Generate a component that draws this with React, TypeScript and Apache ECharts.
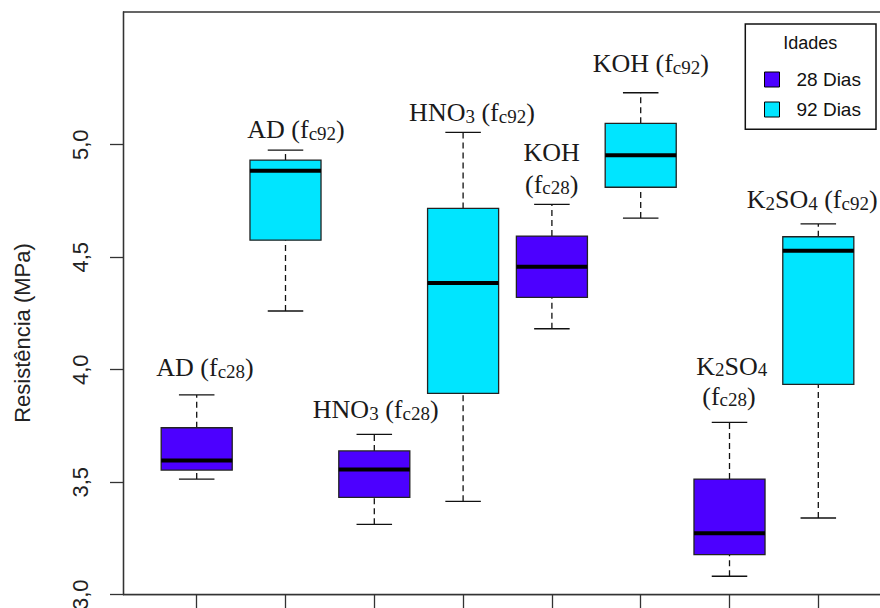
import React, { useEffect, useRef } from "react";
import * as echarts from "echarts";

// ---- data ----
const categories = ["AD 28", "AD 92", "HNO3 28", "HNO3 92", "KOH 28", "KOH 92", "K2SO4 28", "K2SO4 92"];
const boxAge = [0, 1, 0, 1, 0, 1, 0, 1];
const whiskerLow = [3.514, 4.261, 3.313, 3.415, 4.182, 4.674, 3.082, 3.341];
const lowerQuartile = [3.554, 4.576, 3.433, 3.895, 4.322, 4.811, 3.178, 3.935];
const medians = [3.597, 4.884, 3.556, 4.385, 4.458, 4.953, 3.273, 4.529];
const upperQuartile = [3.742, 4.932, 3.639, 4.717, 4.594, 5.095, 3.514, 4.591];
const whiskerHigh = [3.888, 4.976, 3.713, 5.055, 4.735, 5.231, 3.766, 4.648];
const ageNames = ["28 Dias", "92 Dias"];
const ageColors = ["#4C00FF", "#00E5FF"];
const yTicks = [3.0, 3.5, 4.0, 4.5, 5.0];
const xTicks = [1, 2, 3, 4, 5, 6, 7, 8];
const legendTitle = "Idades";
const yTitle = "Resistência (MPa)";

const SERIF = '"Liberation Serif", "Times New Roman", serif';
const SANS = '"Liberation Sans", Arial, sans-serif';
const INK = "#1a1a1a";

const rich = {
  m: { fontFamily: SERIF, fontSize: 26, lineHeight: 26, color: INK, verticalAlign: "bottom" },
  s: { fontFamily: SERIF, fontSize: 19, lineHeight: 19, color: INK, verticalAlign: "bottom" },
};

function label(text: string, x: number, baseline: number, align = "center") {
  return {
    type: "text",
    silent: true,
    z: 10,
    style: {
      text,
      x,
      y: baseline - 8.8,
      rich,
      fill: INK,
      font: `26px ${SERIF}`,
      align,
      textAlign: align,
      verticalAlign: "middle",
      textVerticalAlign: "middle",
    },
  };
}

function renderBox(params: any, api: any) {
  const x = api.value(0);
  const pLo = api.coord([x, api.value(1)]);
  const pQ1 = api.coord([x, api.value(2)]);
  const pMd = api.coord([x, api.value(3)]);
  const pQ3 = api.coord([x, api.value(4)]);
  const pHi = api.coord([x, api.value(5)]);
  const half = api.size([0.8, 0])[0] / 2;
  const cap = half / 2;
  const cx = pLo[0];
  const color = api.visual("color");
  const dash = { stroke: "#111", lineWidth: 1.3, lineDash: [6, 4] };
  const solid = { stroke: "#111", lineWidth: 1.3 };
  return {
    type: "group",
    children: [
      { type: "line", shape: { x1: cx, y1: pQ3[1], x2: cx, y2: pHi[1] }, style: dash },
      { type: "line", shape: { x1: cx, y1: pLo[1], x2: cx, y2: pQ1[1] }, style: dash },
      { type: "line", shape: { x1: cx - cap, y1: pHi[1], x2: cx + cap, y2: pHi[1] }, style: solid },
      { type: "line", shape: { x1: cx - cap, y1: pLo[1], x2: cx + cap, y2: pLo[1] }, style: solid },
      {
        type: "rect",
        shape: { x: cx - half, y: pQ3[1], width: 2 * half, height: pQ1[1] - pQ3[1] },
        style: { fill: color, stroke: "#222", lineWidth: 1.3 },
      },
      { type: "line", shape: { x1: cx - half, y1: pMd[1], x2: cx + half, y2: pMd[1] }, style: { stroke: "#000", lineWidth: 4 } },
    ],
  };
}

export default function App() {
  const ref = useRef<HTMLDivElement>(null);
  useEffect(() => {
    if (!ref.current) return;
    const chart = echarts.init(ref.current, undefined, { renderer: "svg" });
    const series = ageNames.map((name, g) => ({
      name,
      type: "custom",
      renderItem: renderBox,
      itemStyle: { color: ageColors[g] },
      encode: { x: 0, y: [1, 2, 3, 4, 5] },
      data: categories
        .map((_, i) => i)
        .filter((i) => boxAge[i] === g)
        .map((i) => [i + 1, whiskerLow[i], lowerQuartile[i], medians[i], upperQuartile[i], whiskerHigh[i]]),
    }));
    chart.setOption({
      animation: false,
      backgroundColor: "#ffffff",
      grid: {
        left: 123.5,
        top: 12,
        right: -20,
        bottom: 13.3,
        containLabel: false,
        outerBoundsMode: "none",
        show: true,
        borderColor: "#333",
        borderWidth: 1.3,
        backgroundColor: "transparent",
      },
      xAxis: {
        type: "value",
        min: 0.1757,
        max: 8.92,
        axisLine: { show: true, onZero: false, lineStyle: { color: "#333", width: 1.3 } },
        axisTick: { show: true, customValues: xTicks, length: 14, lineStyle: { color: "#333", width: 1.3 } },
        axisLabel: { show: false },
        splitLine: { show: false },
      },
      yAxis: {
        type: "value",
        min: 3.0,
        max: 5.59,
        axisLine: { show: true, lineStyle: { color: "#333", width: 1.3 } },
        axisTick: { show: true, customValues: yTicks, length: 13.5, lineStyle: { color: "#333", width: 1.3 } },
        axisLabel: {
          customValues: yTicks,
          formatter: (v: number) => v.toFixed(1).replace(".", ","),
          rotate: 90,
          margin: 32,
          fontFamily: SANS,
          fontSize: 22,
          color: "#222",
          showMinLabel: true,
          showMaxLabel: true,
        },
        splitLine: { show: false },
      },
      legend: {
        orient: "vertical",
        left: 764,
        top: 70,
        padding: 0,
        itemWidth: 15,
        itemHeight: 15,
        itemGap: 11,
        icon: "rect",
        selectedMode: false,
        data: ageNames,
        itemStyle: { borderColor: "#000", borderWidth: 1 },
        textStyle: { fontFamily: SANS, fontSize: 19, lineHeight: 15, color: "#111", padding: [0, 0, 0, 12] },
      },
      graphic: [
        { type: "rect", silent: true, shape: { x: 745.3, y: 24, width: 130.7, height: 105.3 }, style: { fill: "none", stroke: "#111", lineWidth: 1.5 } },
        {
          type: "text",
          silent: true,
          style: { text: legendTitle, x: 810.3, y: 43.3, font: `18px ${SANS}`, fill: "#111", align: "center", textAlign: "center", verticalAlign: "middle", textVerticalAlign: "middle" },
        },
        {
          type: "text",
          silent: true,
          x: 22,
          y: 333,
          rotation: Math.PI / 2,
          style: { text: yTitle, x: 0, y: 0, font: `22px ${SANS}`, fill: "#222", align: "center", textAlign: "center", verticalAlign: "middle", textVerticalAlign: "middle" },
        },
        label("{m|AD (f}{s|c28}{m|)}", 205, 376.7),
        label("{m|AD (f}{s|c92}{m|)}", 296, 138.3),
        label("{m|HNO}{s|3}{m| (f}{s|c28}{m|)}", 375.7, 418.3),
        label("{m|HNO}{s|3}{m| (f}{s|c92}{m|)}", 472, 121.7),
        label("{m|KOH}", 551.7, 161.7),
        label("{m|(f}{s|c28}{m|)}", 551.7, 193),
        label("{m|KOH (f}{s|c92}{m|)}", 650.8, 72.3),
        label("{m|K}{s|2}{m|SO}{s|4}", 731.7, 375),
        label("{m|(f}{s|c28}{m|)}", 729, 405),
        label("{m|K}{s|2}{m|SO}{s|4}{m| (f}{s|c92}{m|)}", 746.7, 208.3, "left"),
      ],
      series,
    });
    return () => chart.dispose();
  }, []);
  return <div ref={ref} style={{ position: "fixed", left: 0, top: 0, width: 880, height: 608 }} />;
}
